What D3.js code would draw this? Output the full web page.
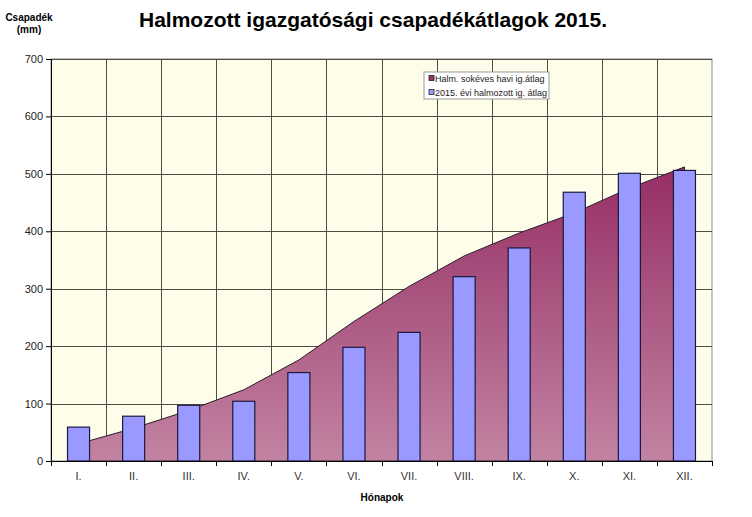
<!DOCTYPE html>
<html>
<head>
<meta charset="utf-8">
<script src="https://cdn.jsdelivr.net/npm/d3@7"></script>
<style>
body { margin: 0; background: #fff; }
svg { display: block; font-family: "Liberation Sans", Arial, sans-serif; }
</style>
</head>
<body>
<svg id="chart" width="752" height="517"></svg>
<script>
const categories = ["I.", "II.", "III.", "IV.", "V.", "VI.", "VII.", "VIII.", "IX.", "X.", "XI.", "XII."];
const longTermAvg = [30, 57, 88, 124, 176, 243, 304, 357, 397, 432, 475, 512];
const actual2015 = [59, 78, 97, 104, 154, 198, 224, 321, 371, 468, 501, 506];
const yTicks = [0, 100, 200, 300, 400, 500, 600, 700];
const seriesNames = ["Halm. sokéves havi ig.átlag", "2015. évi halmozott ig. átlag"];

const svg = d3.select("#chart");
const pL = 51, pR = 712, pT = 59, pB = 461;

const x = d3.scaleBand().domain(categories).range([pL, pR]).padding(0);
const y = d3.scaleLinear().domain([0, 700]).range([pB, pT]);

const defs = svg.append("defs");
const grad = defs.append("linearGradient").attr("id", "areaGrad")
  .attr("x1", 0).attr("y1", 0).attr("x2", 0).attr("y2", 1);
grad.append("stop").attr("offset", "0%").attr("stop-color", "#962f64");
grad.append("stop").attr("offset", "100%").attr("stop-color", "#c283a2");

// plot background
svg.append("rect").attr("x", pL).attr("y", pT).attr("width", pR - pL).attr("height", pB - pT)
  .attr("fill", "#fefde9").attr("stroke", "#8a8a8a").attr("stroke-width", 1);

// gridlines
const g = svg.append("g");
g.selectAll(".hg").data(yTicks.filter(d => d > 0)).join("line")
  .attr("x1", pL).attr("x2", pR).attr("y1", d => Math.round(y(d)) + 0.5).attr("y2", d => Math.round(y(d)) + 0.5)
  .attr("stroke", "#4d4d40").attr("stroke-width", 1);
g.selectAll(".vg").data(categories.slice(1)).join("line")
  .attr("x1", d => Math.round(x(d)) + 0.5).attr("x2", d => Math.round(x(d)) + 0.5)
  .attr("y1", pT).attr("y2", pB)
  .attr("stroke", "#4d4d40").attr("stroke-width", 1);

// area
const cx = d => x(d) + x.bandwidth() / 2;
const area = d3.area()
  .x((d, i) => cx(categories[i]))
  .y0(y(0))
  .y1(d => y(d));
svg.append("path").datum(longTermAvg)
  .attr("d", area)
  .attr("fill", "url(#areaGrad)")
  .attr("stroke", "#2a1a2a").attr("stroke-width", 1);

// bars
const bw = x.bandwidth() * 0.4;
svg.selectAll(".bar").data(actual2015).join("rect")
  .attr("x", (d, i) => cx(categories[i]) - bw / 2)
  .attr("y", d => y(d))
  .attr("width", bw)
  .attr("height", d => y(0) - y(d))
  .attr("fill", "#9999ff")
  .attr("stroke", "#1c1840").attr("stroke-width", 1.2);

// axes
const yAxis = d3.axisLeft(y).tickValues(yTicks).tickSize(5).tickSizeOuter(0).tickPadding(3);
const ya = svg.append("g").attr("transform", `translate(${pL},0)`).call(yAxis);
ya.select(".domain").attr("stroke", "#000");
ya.selectAll("text").attr("font-size", 11).attr("fill", "#222");

const xa = svg.append("g").attr("transform", `translate(0,${pB})`);
xa.append("line").attr("x1", pL).attr("x2", pR).attr("y1", 0.5).attr("y2", 0.5).attr("stroke", "#000");
const tickPos = categories.map(d => x(d)).concat([pR]);
xa.selectAll(".tk").data(tickPos).join("line")
  .attr("x1", d => Math.round(d) + 0.5).attr("x2", d => Math.round(d) + 0.5)
  .attr("y1", 0).attr("y2", 5).attr("stroke", "#000");
xa.selectAll(".lbl").data(categories).join("text")
  .attr("x", d => cx(d)).attr("y", 19)
  .attr("text-anchor", "middle").attr("font-size", 11).attr("fill", "#333")
  .text(d => d);

// titles
svg.append("text").attr("x", 373).attr("y", 27).attr("text-anchor", "middle")
  .attr("font-size", 21).attr("font-weight", "bold").text("Halmozott igazgatósági csapadékátlagok 2015.");
svg.append("text").attr("x", 29).attr("y", 21).attr("text-anchor", "middle")
  .attr("font-size", 10).attr("font-weight", "bold").text("Csapadék");
svg.append("text").attr("x", 29).attr("y", 33).attr("text-anchor", "middle")
  .attr("font-size", 10).attr("font-weight", "bold").text("(mm)");
svg.append("text").attr("x", 382).attr("y", 501).attr("text-anchor", "middle")
  .attr("font-size", 10).attr("font-weight", "bold").text("Hónapok");

// legend
const lg = svg.append("g").attr("transform", "translate(424,72)");
lg.append("rect").attr("x", 0).attr("y", 0).attr("width", 125).attr("height", 27)
  .attr("fill", "#fff").attr("stroke", "#999");
const legendColors = ["#993366", "#9999ff"];
seriesNames.forEach((name, i) => {
  lg.append("rect").attr("x", 5).attr("y", 3.5 + i * 14).attr("width", 5).attr("height", 5)
    .attr("fill", legendColors[i]).attr("stroke", "#222").attr("stroke-width", 0.8);
  lg.append("text").attr("x", 11).attr("y", 10 + i * 14).attr("font-size", 9).attr("fill", "#222").text(name);
});
</script>
</body>
</html>
